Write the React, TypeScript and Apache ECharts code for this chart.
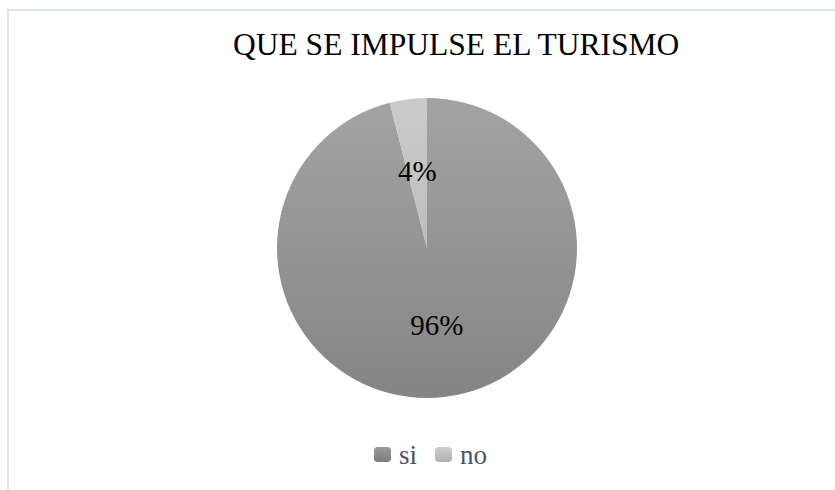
import React, { useEffect, useRef } from "react";
import * as echarts from "echarts";

const titleText = "QUE SE IMPULSE EL TURISMO";
const categories = ["si", "no"];
const values = [96, 4];

const sliceColors = [
  ["#a3a3a3", "#858585"],
  ["#cbcbcb", "#bdbdbd"],
];
const legendIconColors = [
  ["#9a9a9a", "#7c7c7c"],
  ["#cfcfcf", "#b0b0b0"],
];

export default function App() {
  const ref = useRef<HTMLDivElement>(null);
  useEffect(() => {
    if (!ref.current) return;
    const chart = echarts.init(ref.current, undefined, { renderer: "svg" });
    const grad = (c: string[]) =>
      new echarts.graphic.LinearGradient(0, 0, 0, 1, [
        { offset: 0, color: c[0] },
        { offset: 1, color: c[1] },
      ]);
    chart.setOption({
      animation: false,
      backgroundColor: "#ffffff",
      title: {
        text: titleText,
        left: 228,
        top: 23,
        textStyle: {
          fontFamily: "Liberation Serif",
          fontSize: 31.5,
          fontWeight: "normal",
          color: "#000000",
        },
      },
      graphic: [
        {
          type: "rect",
          shape: { x: 8, y: 10, width: 1000, height: 1000 },
          style: { fill: "none", stroke: "#dde3ea", lineWidth: 2 },
          silent: true,
        },
      ],
      legend: {
        top: 441,
        left: 374,
        padding: 0,
        itemWidth: 17,
        itemHeight: 15,
        itemGap: 18,
        data: categories.map((name, i) => ({
          name,
          itemStyle: { color: grad(legendIconColors[i]) },
        })),
        textStyle: {
          fontFamily: "Liberation Serif",
          fontSize: 27,
          color: "#44546a",
          padding: [0, 0, 0, 3],
        },
      },
      series: [
        {
          type: "pie",
          center: [427, 248],
          radius: [0, 150],
          startAngle: 90,
          clockwise: true,
          data: categories.map((name, i) => ({
            name,
            value: values[i],
            itemStyle: { color: grad(sliceColors[i]) },
          })),
          label: {
            show: true,
            position: "inside",
            formatter: (p: any) => p.value + "%",
            fontFamily: "Liberation Serif",
            fontSize: 29,
            color: "#000000",
          },
          labelLine: { show: false },
          emphasis: { disabled: true },
        },
      ],
    });
    return () => chart.dispose();
  }, []);
  return (
    <div
      ref={ref}
      style={{ position: "fixed", left: 0, top: 0, width: 835, height: 490 }}
    />
  );
}
